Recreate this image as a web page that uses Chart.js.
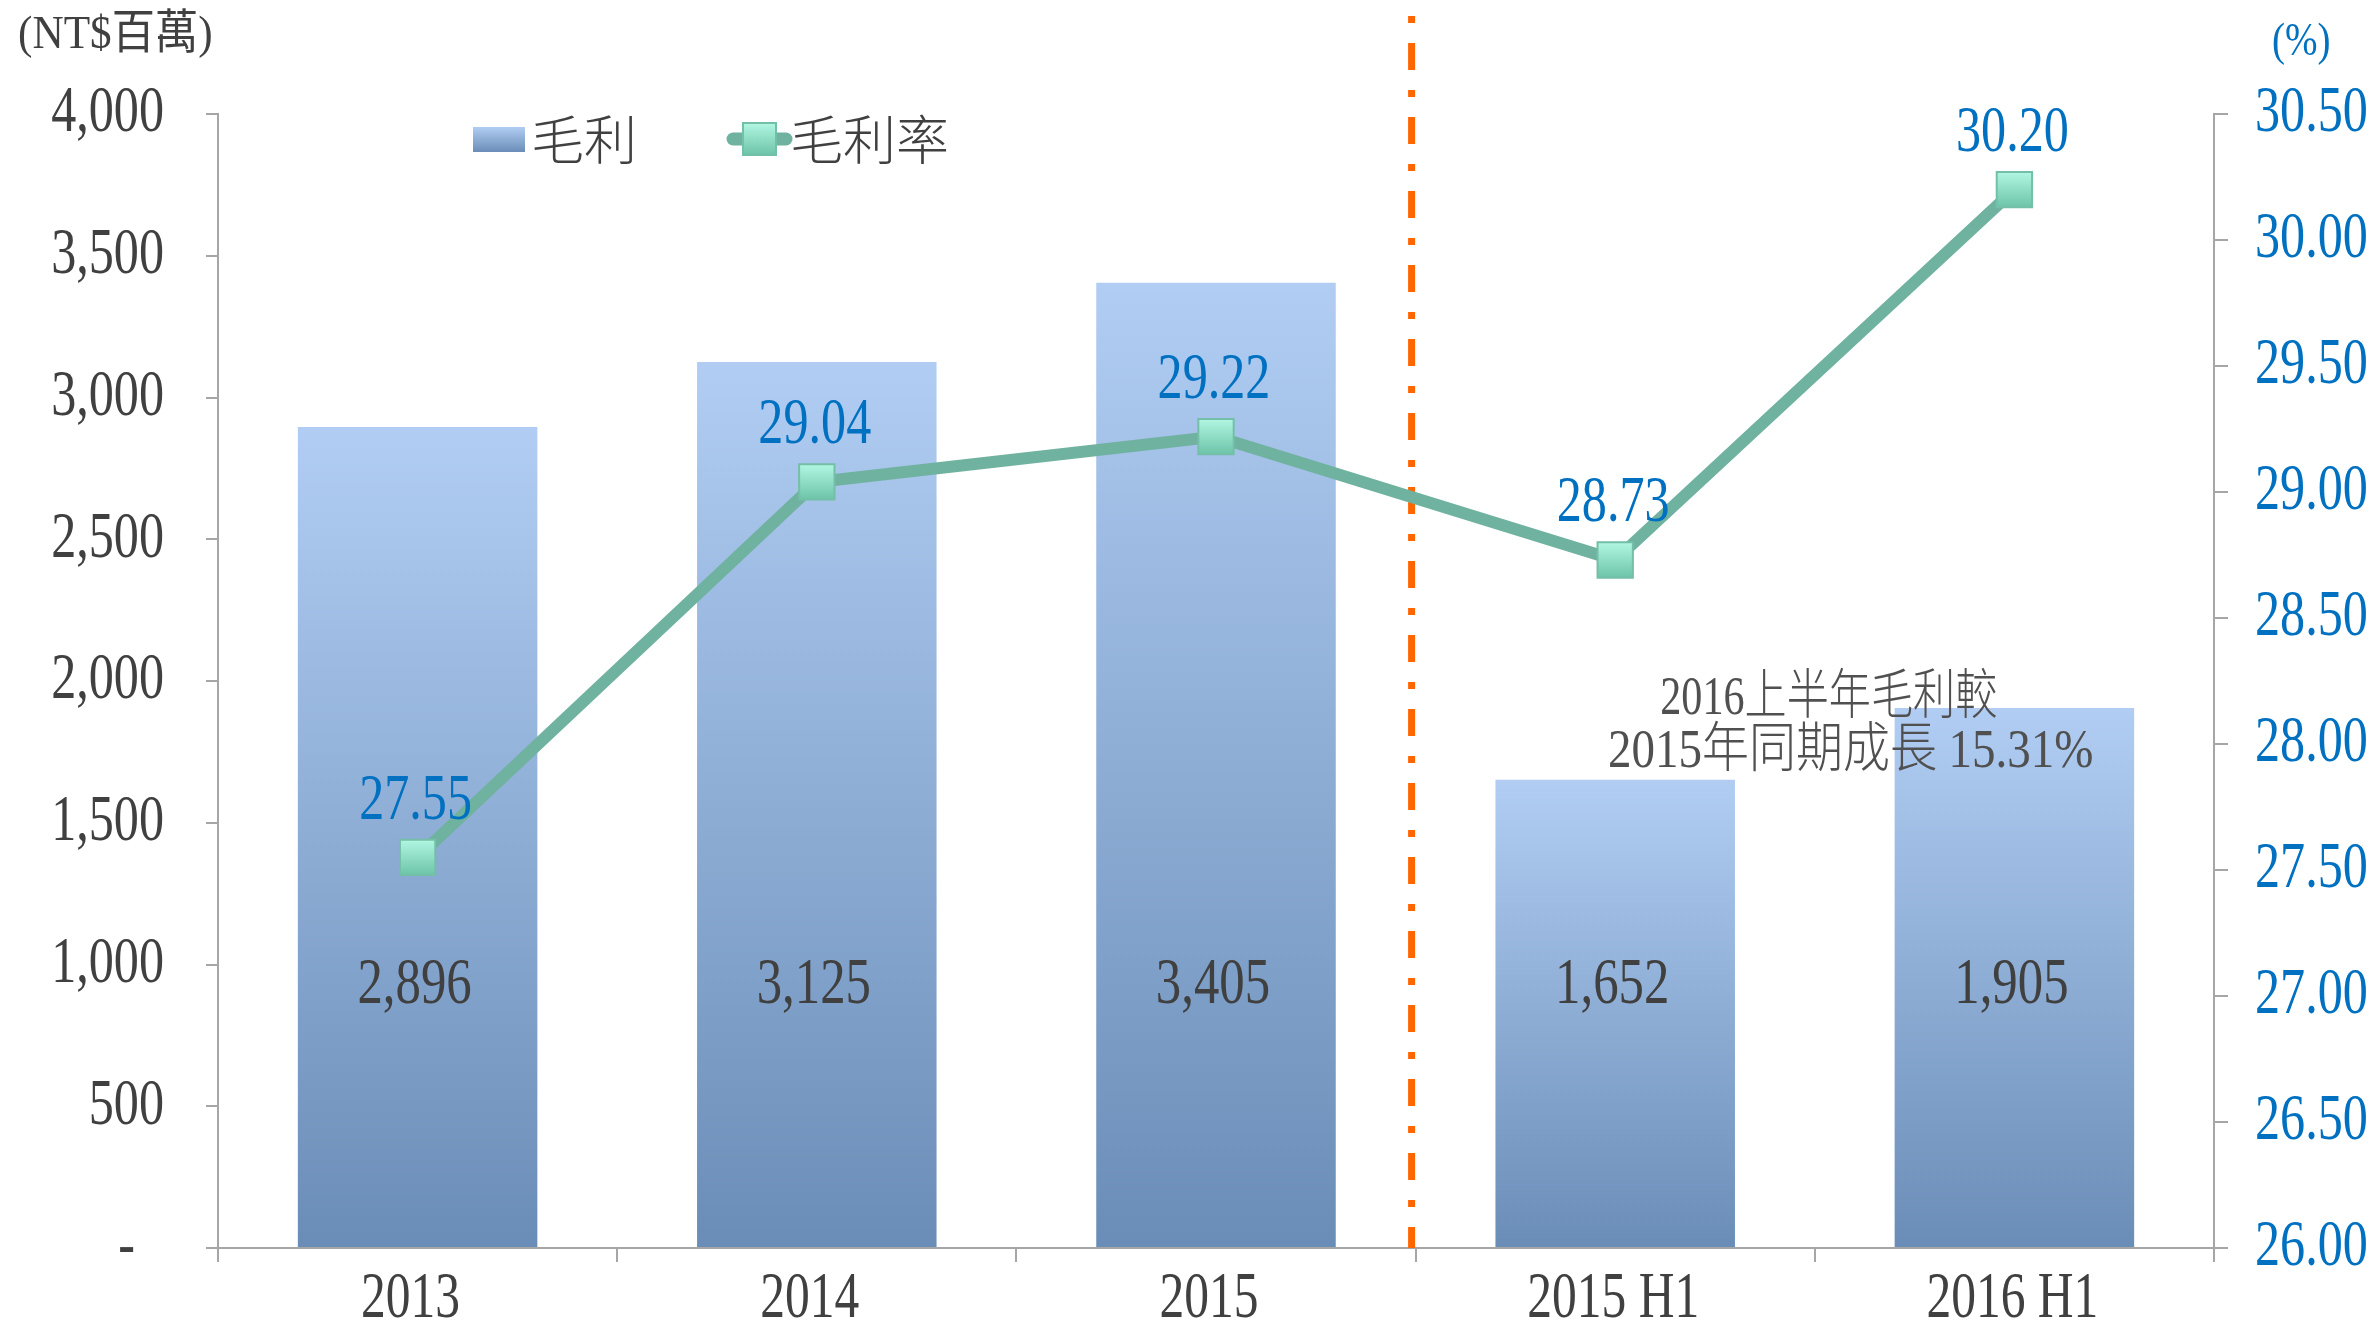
<!DOCTYPE html>
<html>
<head>
<meta charset="utf-8">
<script src="https://cdn.jsdelivr.net/npm/chart.js@4"></script>
<style>
  html, body { margin: 0; padding: 0; background: #fff; }
  #wrap { width: 2378px; height: 1326px; }
</style>
</head>
<body>
<div id="wrap"><canvas id="chart" width="2378" height="1326"></canvas></div>
<script>
// ---- data ----
const categories = ['2013', '2014', '2015', '2015 H1', '2016 H1'];
const grossProfit = [2896, 3125, 3405, 1652, 1905];      // NT$ millions
const grossMargin = [27.55, 29.04, 29.22, 28.73, 30.20]; // %
const seriesNames = ['毛利', '毛利率'];
const noteLines = ['2016上半年毛利較', '2015年同期成長 15.31%'];
const leftUnit = '(NT$百萬)';
const rightUnit = '(%)';

// ---- styles ----
const FONT = '"Liberation Serif", "Noto Sans CJK TC", serif';
const GRAY = '#404040';
const BLUE = '#0070C0';
const AXIS = '#A6A6A6';
const LINE_GREEN = '#70B2A0';

// draw text, squeezed horizontally like the condensed font of the original
function txt(ctx, s, x, y, size, color, align, sx, weight) {
  ctx.save();
  ctx.font = (weight || 'normal') + ' ' + size + 'px ' + FONT;
  ctx.fillStyle = color;
  ctx.textBaseline = 'middle';
  ctx.textAlign = 'left';
  const w = ctx.measureText(s).width * sx;
  let left = x;
  if (align === 'center') left = x - w / 2;
  else if (align === 'right') left = x - w;
  ctx.translate(left, y);
  ctx.scale(sx, 1);
  ctx.fillText(s, 0, 0);
  ctx.restore();
}

function barGradient(c) {
  const chart = c.chart;
  const area = chart.chartArea;
  if (!area || c.type !== 'data') return '#8FAEDC';
  const top = chart.scales.y.getPixelForValue(c.raw);
  const g = chart.ctx.createLinearGradient(0, top, 0, area.bottom);
  g.addColorStop(0, '#B1CDF3');
  g.addColorStop(1, '#6A8DB7');
  return g;
}

function pointGradient(c) {
  const chart = c.chart;
  if (!chart.chartArea || c.type !== 'data') return '#8FDCC4';
  const y = chart.scales.y1.getPixelForValue(c.raw);
  const g = chart.ctx.createLinearGradient(0, y - 18, 0, y + 18);
  g.addColorStop(0, '#B2F7E3');
  g.addColorStop(1, '#6CC3A8');
  return g;
}

// ---- custom drawing: ticks, labels, legend, divider, note ----
const decor = {
  id: 'decor',
  beforeDatasetsDraw(chart) {
    const ctx = chart.ctx;
    const x = chart.scales.x;
    const area = chart.chartArea;
    const xs = (x.getPixelForValue(2) + x.getPixelForValue(3)) / 2 - 4;
    ctx.save();
    ctx.strokeStyle = '#FF6600';
    ctx.lineWidth = 7;
    ctx.setLineDash([7, 20, 27, 20]);
    ctx.beginPath();
    ctx.moveTo(xs, 16);
    ctx.lineTo(xs, area.bottom);
    ctx.stroke();
    ctx.restore();
  },
  afterDatasetsDraw(chart) {
    const ctx = chart.ctx;
    const x = chart.scales.x, y = chart.scales.y, y1 = chart.scales.y1;

    // bar values, inside the bars near the bottom
    grossProfit.forEach((v, i) => {
      txt(ctx, v.toLocaleString('en-US'), x.getPixelForValue(i) - 3, y.getPixelForValue(925), 66, GRAY, 'center', 0.77);
    });
    // margin values above the points
    grossMargin.forEach((v, i) => {
      txt(ctx, v.toFixed(2), x.getPixelForValue(i) - 2, y1.getPixelForValue(v) - 56, 66, BLUE, 'center', 0.76);
    });

    // note over the H1 bars
    const x3 = x.getPixelForValue(3), x4 = x.getPixelForValue(4);
    txt(ctx, noteLines[0], x3 + 0.535 * (x4 - x3), y.getPixelForValue(1935), 54, '#505050', 'center', 0.78, 300);
    txt(ctx, noteLines[1], x3 + 0.59 * (x4 - x3), y.getPixelForValue(1745), 54, '#505050', 'center', 0.87, 300);

    // legend
    ctx.save();
    const lg = ctx.createLinearGradient(0, 127, 0, 152);
    lg.addColorStop(0, '#B1CDF3');
    lg.addColorStop(1, '#6A8DB7');
    ctx.fillStyle = lg;
    ctx.fillRect(473, 127, 52, 25);
    ctx.strokeStyle = LINE_GREEN;
    ctx.lineWidth = 13;
    ctx.lineCap = 'round';
    ctx.beginPath();
    ctx.moveTo(733, 139);
    ctx.lineTo(786, 139);
    ctx.stroke();
    const mg = ctx.createLinearGradient(0, 123, 0, 155);
    mg.addColorStop(0, '#B2F7E3');
    mg.addColorStop(1, '#6CC3A8');
    ctx.fillStyle = mg;
    ctx.fillRect(743, 123, 33, 32);
    ctx.strokeStyle = '#74BFA8';
    ctx.lineWidth = 2;
    ctx.strokeRect(743, 123, 33, 32);
    ctx.restore();
    txt(ctx, seriesNames[0], 531, 146, 53, GRAY, 'left', 1, 300);
    txt(ctx, seriesNames[1], 790, 146, 53, GRAY, 'left', 1, 300);
  },
  afterDraw(chart) {
    const ctx = chart.ctx;
    const x = chart.scales.x, y = chart.scales.y, y1 = chart.scales.y1;
    y.ticks.forEach((t, i) => {
      const s = t.value === 0 ? '-' : t.value.toLocaleString('en-US');
      const px = t.value === 0 ? 135 : 164;
      txt(ctx, s, px, y.getPixelForTick(i), 66, GRAY, 'right', 0.76);
    });
    y1.ticks.forEach((t, i) => {
      txt(ctx, t.value.toFixed(2), 2255, y1.getPixelForTick(i), 66, BLUE, 'left', 0.76);
    });
    categories.forEach((c, i) => {
      const off = c.length === 4 ? -7 : -2;
      txt(ctx, c, x.getPixelForValue(i) + off, 1300, 66, GRAY, 'center', 0.75);
    });
    txt(ctx, leftUnit, 18, 36, 47, GRAY, 'left', 0.92);
    txt(ctx, rightUnit, 2272, 43, 46, BLUE, 'left', 0.85);
  }
};

const axisGrid = (len) => ({
  drawOnChartArea: false, drawTicks: true, tickLength: len, color: AXIS, lineWidth: 2
});

new Chart(document.getElementById('chart'), {
  type: 'bar',
  data: {
    labels: categories,
    datasets: [
      {
        type: 'line',
        label: seriesNames[1],
        data: grossMargin,
        yAxisID: 'y1',
        borderColor: LINE_GREEN,
        borderWidth: 12,
        pointStyle: 'rect',
        pointRadius: 25,
        pointHoverRadius: 25,
        pointBackgroundColor: pointGradient,
        pointBorderColor: '#74BFA8',
        pointBorderWidth: 2,
        tension: 0,
        order: 1
      },
      {
        label: seriesNames[0],
        data: grossProfit,
        yAxisID: 'y',
        backgroundColor: barGradient,
        borderWidth: 0,
        categoryPercentage: 1,
        barPercentage: 0.6,
        order: 2
      }
    ]
  },
  options: {
    responsive: false,
    animation: false,
    events: [],
    layout: { padding: { top: 114, left: 0, right: 0, bottom: 0 } },
    plugins: { legend: { display: false }, tooltip: { enabled: false } },
    scales: {
      x: {
        offset: true,
        grid: Object.assign(axisGrid(14), { offset: true }),
        border: { color: AXIS, width: 2 },
        ticks: { display: false },
        afterFit: (s) => { s.height = 78; }
      },
      y: {
        position: 'left',
        min: 0, max: 4000,
        ticks: { display: false, stepSize: 500 },
        grid: axisGrid(12),
        border: { color: AXIS, width: 2 },
        afterFit: (s) => { s.width = 218; }
      },
      y1: {
        position: 'right',
        min: 26, max: 30.5,
        ticks: { display: false, stepSize: 0.5 },
        grid: axisGrid(14),
        border: { color: AXIS, width: 2 },
        afterFit: (s) => { s.width = 164; }
      }
    }
  },
  plugins: [decor]
});
</script>
</body>
</html>
